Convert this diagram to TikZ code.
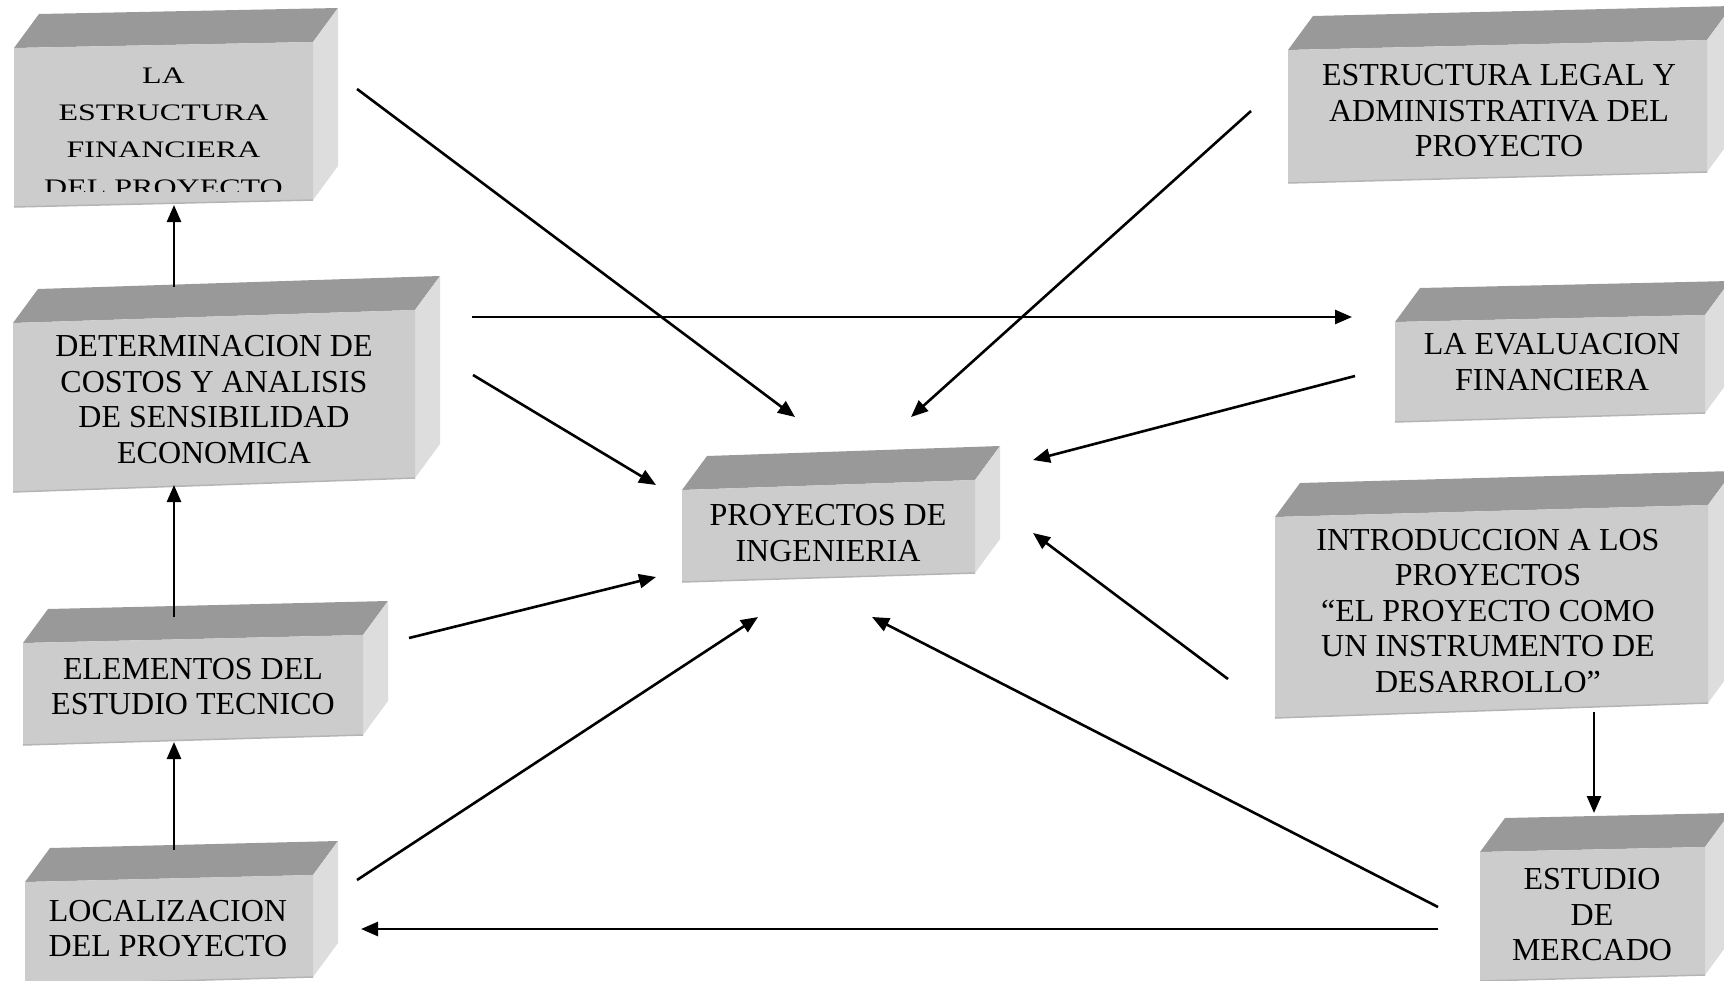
\documentclass[tikz,border=0pt]{standalone}
\usepackage{fontspec}
\setmainfont{Liberation Serif}
\usetikzlibrary{arrows.meta,calc}
\definecolor{topc}{HTML}{999999}
\definecolor{frontc}{HTML}{CCCCCC}
\definecolor{sidec}{HTML}{DDDDDD}
\definecolor{edgec}{HTML}{B4B4B4}
\newcommand\drawslab[4]{%
  \fill[topc] (#1) -- ($(#1)+(25,-34)$) -- ($(#2)+(25,-34)$) -- (#2) -- cycle;
  \fill[sidec] (#2) -- ($(#2)+(25,-34)$) -- ($(#3)+(25,-34)$) -- (#3) -- cycle;
  \fill[frontc] (#1) -- (#2) -- (#3) -- (#4) -- cycle;
  \draw[edgec,line width=1.5pt] (#4) -- (#3);
}
\begin{document}
\begin{tikzpicture}[x=1pt,y=-1pt,
  lbl/.style={font=\fontsize{32}{35.5}\selectfont, align=center, inner sep=0pt},
  arr/.style={line width=2.6pt, -{Triangle[length=17pt,width=14pt]}}]
\useasboundingbox (0,0) rectangle (1724,980);
\clip (0,0) rectangle (1724,980);
\fill[white] (0,0) rectangle (1724,980);

% slabs
\drawslab{14,48}{313,42}{313,200}{14,207}
\drawslab{13,323}{415,310}{415,478}{13,492}
\drawslab{682,490}{975,480}{975,573}{682,582}
\drawslab{1288,50}{1707,40}{1707,172}{1288,183}
\drawslab{1395,322}{1705,315}{1705,413}{1395,422}
\drawslab{1275,517}{1708,505}{1708,703}{1275,718}
\drawslab{1480,852}{1705,847}{1705,975}{1480,981}
\drawslab{25,882}{313,875}{313,977}{25,985}
\drawslab{23,643}{363,635}{363,735}{23,745}

% texts
\begin{scope}
\clip (0,0) rectangle (400,191);
\node[inner sep=0pt] (fin) at (163.5,131.8) {\fontsize{32}{50.3}\selectfont\scalebox{1}[0.74]{\begin{tabular}{@{}c@{}}LA\\ESTRUCTURA\\FINANCIERA\\DEL PROYECTO\end{tabular}}};
\end{scope}
\node[lbl] (det) at (214,399.4) {DETERMINACION DE\\COSTOS Y ANALISIS\\DE SENSIBILIDAD\\ECONOMICA};
\node[lbl] (proy) at (828,532.9) {PROYECTOS DE\\INGENIERIA};
\node[lbl] (legal) at (1499,110.9) {ESTRUCTURA LEGAL Y\\ADMINISTRATIVA DEL\\PROYECTO};
\node[lbl] (eval) at (1552,361.9) {LA EVALUACION\\FINANCIERA};
\node[lbl] (intro) at (1488,610.9) {INTRODUCCION A LOS\\PROYECTOS\\“EL PROYECTO COMO\\UN INSTRUMENTO DE\\DESARROLLO”};
\node[lbl] (merc) at (1592,914.9) {ESTUDIO\\DE\\MERCADO};
\node[lbl] (loc) at (168,928.4) {LOCALIZACION\\DEL PROYECTO};
\node[lbl] (elem) at (193,686.4) {ELEMENTOS DEL\\ESTUDIO TECNICO};

% connector ends
\coordinate (finOut) at (357,89);     \coordinate (proyInA) at (795,417);
\coordinate (legalOut) at (1251,111); \coordinate (proyInB) at (911,417);
\coordinate (detOutA) at (472,317);   \coordinate (evalIn) at (1352,317);
\coordinate (evalOut) at (1355,376);  \coordinate (proyInC) at (1033,460);
\coordinate (detOutB) at (473,375);   \coordinate (proyInD) at (656,485);
\coordinate (elemOut) at (409,638);   \coordinate (proyInE) at (656,577);
\coordinate (locOut) at (357,880);    \coordinate (proyInF) at (758,617);
\coordinate (introOut) at (1228,679); \coordinate (proyInG) at (1033,533);
\coordinate (mercOutA) at (1438,907); \coordinate (proyInH) at (872,617);
\coordinate (mercOutB) at (1438,929); \coordinate (locIn) at (361,929);
\coordinate (introDown) at (1594,712); \coordinate (mercIn) at (1594,813);
\coordinate (detUp) at (174,287);     \coordinate (finIn) at (174,205);
\coordinate (elemUp) at (174,617);    \coordinate (detIn) at (174,485);
\coordinate (locUp) at (174,850);     \coordinate (elemIn) at (174,742);

\draw[arr] (finOut) -- (proyInA);
\draw[arr] (legalOut) -- (proyInB);
\draw[arr] (detOutA) -- (evalIn);
\draw[arr] (evalOut) -- (proyInC);
\draw[arr] (detOutB) -- (proyInD);
\draw[arr] (elemOut) -- (proyInE);
\draw[arr] (locOut) -- (proyInF);
\draw[arr] (introOut) -- (proyInG);
\draw[arr] (mercOutA) -- (proyInH);
\draw[arr] (mercOutB) -- (locIn);
\draw[arr] (introDown) -- (mercIn);
\draw[arr] (detUp) -- (finIn);
\draw[arr] (elemUp) -- (detIn);
\draw[arr] (locUp) -- (elemIn);
\end{tikzpicture}
\end{document}
